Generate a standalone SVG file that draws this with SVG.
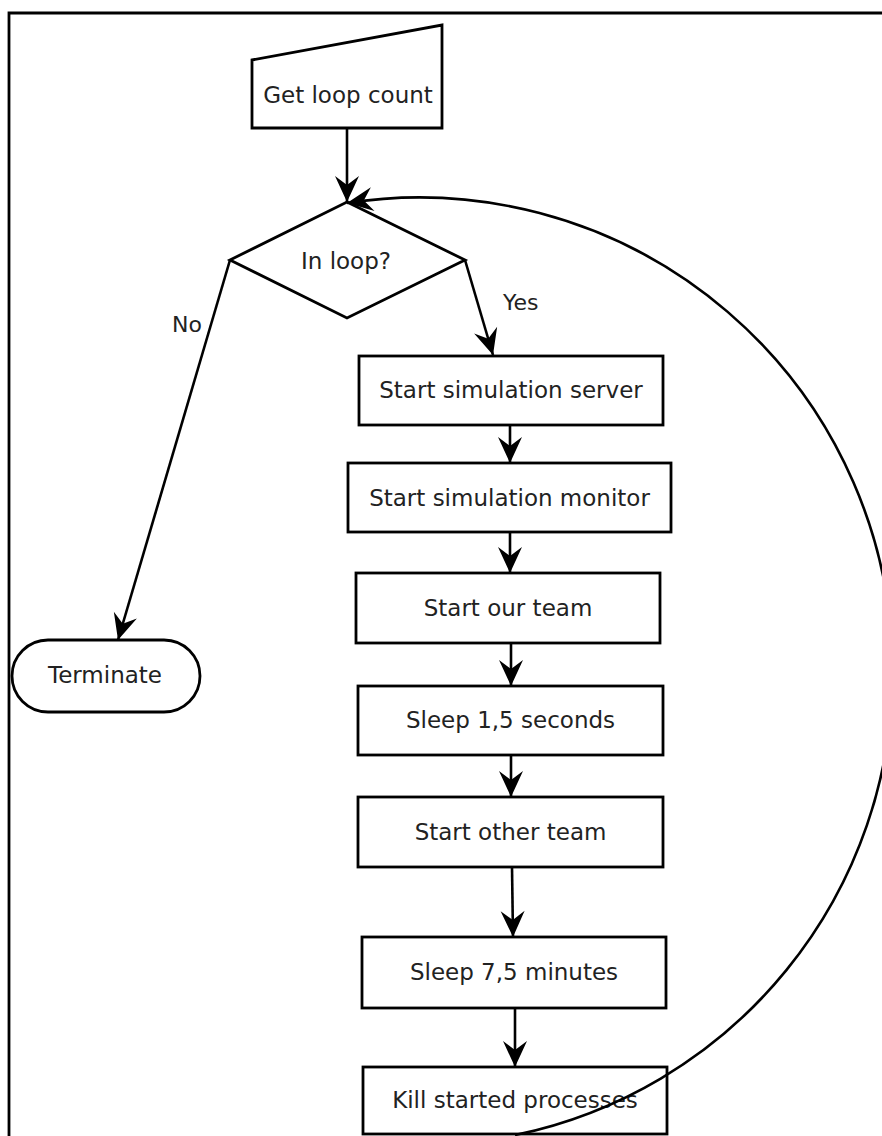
<svg xmlns="http://www.w3.org/2000/svg" width="882" height="1136" viewBox="0 0 882 1136">
<style>
.s{fill:#fff;stroke:#000;stroke-width:2.8;stroke-linejoin:miter}
.t{font-family:"DejaVu Sans",sans-serif;font-size:23px;fill:#222;text-anchor:middle}
.l{font-family:"DejaVu Sans",sans-serif;font-size:22px;fill:#222}
.c{fill:none;stroke:#000;stroke-width:2.6}
</style>
<defs>
<marker id="ah" markerUnits="userSpaceOnUse" viewBox="-27 -14 28 28" refX="0" refY="0" markerWidth="28" markerHeight="28" orient="auto">
<path d="M0,0 L-26,-12 L-17,0 L-26,12 Z" fill="#000"/>
</marker>
</defs>
<rect width="882" height="1136" fill="#fff"/>
<path d="M9,1140 L9,13 L890,13" fill="none" stroke="#000" stroke-width="2.8"/>
<g id="get-loop-count">
<polygon class="s" points="252,60 442,25 442,128 252,128"/>
<text class="t" x="348" y="103">Get loop count</text>
</g>
<g id="in-loop">
<polygon class="s" points="347,202 465,260 347,318 230,260"/>
<text class="t" x="346" y="269">In loop?</text>
</g>
<g id="terminate">
<rect class="s" x="12" y="640" width="188" height="72" rx="36" ry="36"/>
<text class="t" x="105" y="683">Terminate</text>
</g>
<g id="start-server">
<rect class="s" x="359" y="356" width="304" height="69"/>
<text class="t" x="511" y="398">Start simulation server</text>
</g>
<g id="start-monitor">
<rect class="s" x="348" y="463" width="323" height="69"/>
<text class="t" x="509.5" y="506">Start simulation monitor</text>
</g>
<g id="start-our-team">
<rect class="s" x="356" y="573" width="304" height="70"/>
<text class="t" x="508" y="616">Start our team</text>
</g>
<g id="sleep-1-5">
<rect class="s" x="358" y="686" width="305" height="69"/>
<text class="t" x="510.5" y="728">Sleep 1,5 seconds</text>
</g>
<g id="start-other-team">
<rect class="s" x="358" y="797" width="305" height="70"/>
<text class="t" x="510.5" y="840">Start other team</text>
</g>
<g id="sleep-7-5">
<rect class="s" x="362" y="937" width="304" height="71"/>
<text class="t" x="514" y="980">Sleep 7,5 minutes</text>
</g>
<g id="kill">
<rect class="s" x="363" y="1067" width="304" height="67"/>
<text class="t" x="515" y="1108">Kill started processes</text>
</g>
<g id="connectors">
<line class="c" x1="347" y1="128" x2="347" y2="202" marker-end="url(#ah)"/>
<line class="c" x1="230" y1="260" x2="118" y2="640" marker-end="url(#ah)"/>
<line class="c" x1="465" y1="260" x2="493" y2="355" marker-end="url(#ah)"/>
<line class="c" x1="510" y1="425" x2="510" y2="463" marker-end="url(#ah)"/>
<line class="c" x1="510" y1="532" x2="510" y2="573" marker-end="url(#ah)"/>
<line class="c" x1="511" y1="643" x2="511" y2="686" marker-end="url(#ah)"/>
<line class="c" x1="511" y1="755" x2="511" y2="797" marker-end="url(#ah)"/>
<line class="c" x1="512" y1="867" x2="513" y2="937" marker-end="url(#ah)"/>
<line class="c" x1="515" y1="1008" x2="515" y2="1067" marker-end="url(#ah)"/>
<path class="c" stroke-width="2.3" d="M515,1135 A473.7,473.7 0 0 0 892.7,671 A473.7,473.7 0 0 0 347,203" marker-end="url(#ah)"/>
<text class="l" x="172" y="332">No</text>
<text class="l" x="503" y="310">Yes</text>
</g>
</svg>
